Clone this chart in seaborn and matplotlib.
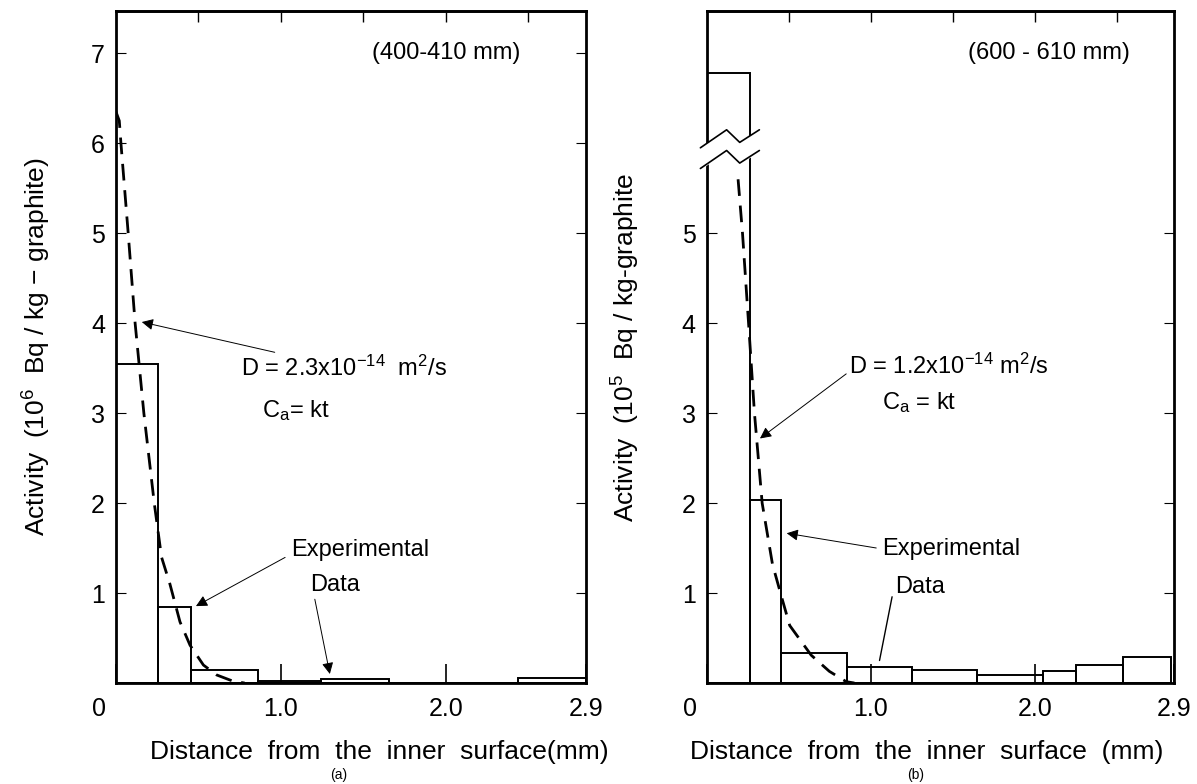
import seaborn as sns
import matplotlib
matplotlib.use("Agg")
from matplotlib import pyplot as plt
from matplotlib import transforms

# panel (a): 400-410 mm
edges_a = [0, 0.253, 0.455, 0.859, 1.242, 1.656, 2.44, 2.85]
heights_a = [3.55, 0.85, 0.14, 0.026, 0.048, 0.0, 0.055]
curve_x_a = [0.0, 0.02, 0.03, 0.074, 0.116, 0.169, 0.232, 0.276, 0.327, 0.388, 0.449, 0.53, 0.61, 0.71, 0.78]
curve_y_a = [6.35, 6.25, 6.0, 5.0, 4.0, 3.0, 2.0, 1.4, 1.1, 0.68, 0.42, 0.2, 0.09, 0.02, 0.0]

# panel (b): 600-610 mm (first bar is off scale, drawn above the break)
edges_b = [0, 0.262, 0.455, 0.855, 1.25, 1.65, 2.05, 2.25, 2.54, 2.83]
heights_b = [6.78, 2.03, 0.33, 0.18, 0.15, 0.09, 0.13, 0.2, 0.29]
curve_x_b = [0.19, 0.217, 0.254, 0.29, 0.337, 0.40, 0.455, 0.505, 0.636, 0.747, 0.85, 0.9]
curve_y_b = [5.6, 5.0, 4.0, 3.0, 2.0, 1.32, 0.96, 0.64, 0.31, 0.13, 0.015, 0.0]

x_max = 2.85
y_max = 7.47
xtick_pos = [0, 1.0, 2.0, x_max]
xtick_lab = ["0", "1.0", "2.0", "2.9"]

sns.set_style("ticks")
plt.rcParams["font.family"] = ["Liberation Sans", "DejaVu Sans"]
plt.rcParams["mathtext.fontset"] = "custom"
plt.rcParams["mathtext.rm"] = "Liberation Sans"
plt.rcParams["mathtext.it"] = "Liberation Sans"
plt.rcParams["text.color"] = "black"
plt.rcParams["axes.labelcolor"] = "black"
plt.rcParams["xtick.color"] = "black"
plt.rcParams["ytick.color"] = "black"

fig = plt.figure(figsize=(11.97, 7.84), dpi=100)
ax_a = fig.add_axes([0.0969, 0.1288, 0.3927, 0.8571])
ax_b = fig.add_axes([0.5906, 0.1288, 0.3901, 0.8571])


def draw_bars(ax, edges, heights):
    centers = [(edges[i] + edges[i + 1]) / 2 for i in range(len(heights))]
    sns.histplot(x=centers, weights=heights, bins=edges, fill=False,
                 color="black", linewidth=1.4, stat="count", ax=ax)


def style_axis(ax, yticks):
    ax.set_xlim(0, x_max)
    ax.set_ylim(0, y_max)
    ax.set_xticks(xtick_pos)
    ax.set_xticklabels(xtick_lab, fontsize=18)
    ax.set_yticks(yticks)
    ax.set_yticklabels([str(t) for t in yticks], fontsize=18)
    ax.tick_params(axis="x", direction="in", length=14, width=1.2, pad=10)
    ax.tick_params(axis="y", direction="in", length=7, width=0.8, pad=8, right=True)
    # shift the "0" label left of the axis like the original
    lab0 = ax.get_xticklabels()[0]
    lab0.set_transform(lab0.get_transform() + transforms.ScaledTranslation(-12 / 72, 0, fig.dpi_scale_trans))
    top = ax.secondary_xaxis("top")
    top.set_xticks([0.5, 1.0, 1.5, 2.0, 2.5])
    top.set_xticklabels([])
    top.tick_params(direction="in", length=8, width=1.0)
    for s in ax.spines.values():
        s.set_linewidth(2.0)
        s.set_color("black")
    top.spines["top"].set_linewidth(2.0)
    ax.set_xlabel("")
    ax.set_ylabel("")


# (a)
draw_bars(ax_a, edges_a, heights_a)
sns.lineplot(x=curve_x_a, y=curve_y_a, color="black", linewidth=2.0,
             linestyle=(0, (6, 3.5)), ax=ax_a)
style_axis(ax_a, [1, 2, 3, 4, 5, 6, 7])
ax_a.text(2.0, 7.0, "(400-410 mm)", fontsize=17, ha="center", va="center")
ax_a.annotate("D = 2.3x10$^{-14}$  m$^{2}$/s", xy=(0.14, 4.02), xytext=(0.76, 3.5),
              fontsize=17, va="center",
              arrowprops=dict(arrowstyle="-|>", color="black", lw=0.7, shrinkA=0))
ax_a.text(0.885, 3.03, "C$_{a}$= kt", fontsize=17, va="center")
ax_a.annotate("Experimental", xy=(0.47, 0.84), xytext=(1.06, 1.48), fontsize=17, va="center",
              arrowprops=dict(arrowstyle="-|>", color="black", lw=0.7, shrinkA=2, relpos=(0, 0.3)))
ax_a.annotate("Data", xy=(1.30, 0.07), xytext=(1.18, 1.09), fontsize=17, va="center",
              arrowprops=dict(arrowstyle="-|>", color="black", lw=0.7, shrinkA=0, relpos=(0, 0.8)))
ax_a.set_ylabel("Activity  (10$^{6}$  Bq / kg $-$ graphite)", fontsize=19)
ax_a.yaxis.set_label_coords(-0.135, 0.5)
ax_a.set_xlabel("Distance  from  the  inner  surface(mm)", fontsize=19)
ax_a.xaxis.set_label_coords(0.56, -0.085)
fig.text(0.283, 0.003, "(a)", fontsize=10, ha="center", va="bottom")

# (b)
draw_bars(ax_b, edges_b, heights_b)
sns.lineplot(x=curve_x_b, y=curve_y_b, color="black", linewidth=2.0,
             linestyle=(0, (6, 3.5)), ax=ax_b)
style_axis(ax_b, [1, 2, 3, 4, 5])
ax_b.text(2.09, 7.0, "(600 - 610 mm)", fontsize=17, ha="center", va="center")
ax_b.annotate("D = 1.2x10$^{-14}$ m$^{2}$/s", xy=(0.31, 2.7), xytext=(0.87, 3.52),
              fontsize=17, va="center",
              arrowprops=dict(arrowstyle="-|>", color="black", lw=0.7, shrinkA=0, relpos=(0, 0.3)))
ax_b.text(1.07, 3.12, "C$_{a}$ = kt", fontsize=17, va="center")
ax_b.annotate("Experimental", xy=(0.47, 1.67), xytext=(1.07, 1.49), fontsize=17, va="center",
              arrowprops=dict(arrowstyle="-|>", color="black", lw=0.7, shrinkA=2, relpos=(0, 0.5)))
ax_b.annotate("Data", xy=(1.05, 0.22), xytext=(1.15, 1.07), fontsize=17, va="center",
              arrowprops=dict(arrowstyle="-", color="black", lw=1.0, shrinkA=0, relpos=(0, 0.8)))
ax_b.set_ylabel("Activity  (10$^{5}$  Bq / kg-graphite", fontsize=19)
ax_b.yaxis.set_label_coords(-0.14, 0.5)
ax_b.set_xlabel("Distance  from  the  inner  surface  (mm)", fontsize=19)
ax_b.xaxis.set_label_coords(0.47, -0.085)
fig.text(0.765, 0.003, "(b)", fontsize=10, ha="center", va="bottom")

# axis break marks on (b)
brk_x = [-0.04, 0.12, 0.20, 0.32]
brk_up = [5.95, 6.15, 6.01, 6.15]
brk_lo = [5.72, 5.92, 5.78, 5.92]
ax_b.fill_between(brk_x, brk_lo, brk_up, color="white", zorder=5, clip_on=False)
ax_b.plot(brk_x, brk_up, color="black", lw=1.2, zorder=6, clip_on=False)
ax_b.plot(brk_x, brk_lo, color="black", lw=1.2, zorder=6, clip_on=False)

fig.savefig("out.png", dpi=100)
